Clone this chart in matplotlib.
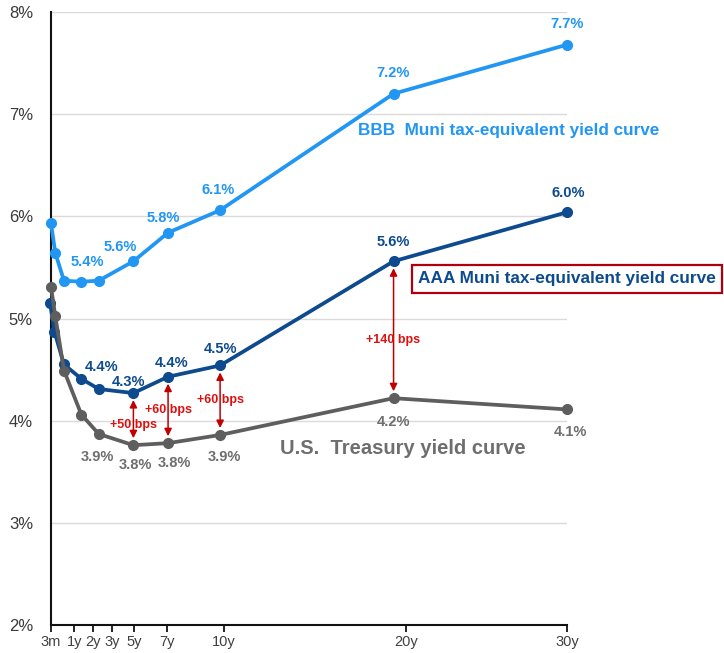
import matplotlib
matplotlib.use("Agg")
import matplotlib.pyplot as plt
from matplotlib.ticker import FuncFormatter

# Maturities in years (3m, 6m, 1y, 2y, 3y, 5y, 7y, 10y, 20y, 30y)
maturities = [0.25, 0.5, 1, 2, 3, 5, 7, 10, 20, 30]
aaa_maturities = [0.2, 0.45, 1, 2, 3, 5, 7, 10, 20, 30]

# Yields in percent
bbb_muni_te = [5.93, 5.64, 5.37, 5.36, 5.37, 5.56, 5.84, 6.06, 7.20, 7.68]
aaa_muni_te = [5.15, 4.87, 4.55, 4.41, 4.31, 4.27, 4.43, 4.54, 5.56, 6.04]
treasury = [5.31, 5.02, 4.49, 4.06, 3.87, 3.76, 3.78, 3.86, 4.22, 4.11]

# Which points get value labels, with their label offsets (pixels)
bbb_labeled = {3: (6, 20), 5: (-13, 14), 6: (-5, 15), 7: (-2, 20), 8: (0, 21), 9: (0, 21)}
aaa_labeled = {3: (20, 12), 5: (-5, 11), 6: (3, 14), 7: (0, 16), 8: (0, 19), 9: (1, 19)}
tsy_labeled = {4: (-1, -23), 5: (2, -20), 6: (6, -20), 7: (4, -22), 8: (0, -24), 9: (3, -23)}

# Spread call-outs between AAA muni and Treasury curves
spread_idx = [5, 6, 7, 8]
spread_labels = ["+50 bps", "+60 bps", "+60 bps", "+140 bps"]
spread_label_dy = [-0.06, 0.0, 0.0, -0.1]

tick_positions = [0.25, 1.6, 2.67, 3.76, 5.03, 6.93, 10.2, 20.7, 30]
tick_labels = ["3m", "1y", "2y", "3y", "5y", "7y", "10y", "20y", "30y"]
y_ticks = [2, 3, 4, 5, 6, 7, 8]

BBB_C = "#2196F3"
AAA_C = "#0D4A8E"
TSY_C = "#5E5E5E"
TSY_TXT = "#6E6E6E"
RED = "#C00000"

plt.rcParams["font.family"] = ["Liberation Sans", "DejaVu Sans"]

fig = plt.figure(figsize=(7.24, 6.53), dpi=100)
W, H = 724, 653
ax = fig.add_axes([51 / W, 1 - 625 / H, (567 - 51) / W, (625 - 12) / H])

ax.set_xlim(0.25, 30)
ax.set_ylim(2, 8)

ax.set_yticks(y_ticks)
ax.yaxis.set_major_formatter(FuncFormatter(lambda v, p: f"{v:.0f}%"))
ax.tick_params(axis="y", length=0, pad=13, labelsize=12, labelcolor="#3A3A3A")
ax.set_xticks(tick_positions)
ax.set_xticklabels(tick_labels, family=["Liberation Sans Narrow", "Liberation Sans"])
ax.tick_params(axis="x", length=5, width=1.2, direction="out", labelsize=10.5,
               labelcolor="#404040", pad=2)

ax.grid(axis="y", color="#DADADA", lw=1)
ax.set_axisbelow(True)
for s in ("top", "right"):
    ax.spines[s].set_visible(False)
for s in ("left", "bottom"):
    ax.spines[s].set_color("#111111")
    ax.spines[s].set_linewidth(1.5)

lkw = dict(lw=2.7, marker="o", ms=7, clip_on=False, zorder=3)
ax.plot(maturities, bbb_muni_te, color=BBB_C, **lkw)
ax.plot(aaa_maturities, aaa_muni_te, color=AAA_C, **lkw)
ax.plot(maturities, treasury, color=TSY_C, **lkw)


def label_points(xs, ys, labeled, color):
    for i, (dx, dy) in labeled.items():
        ax.annotate(f"{ys[i]:.1f}%", (xs[i], ys[i]), xytext=(dx, dy),
                    textcoords="offset pixels", ha="center", va="center",
                    fontsize=10.5, fontweight="bold", color=color,
                    annotation_clip=False, zorder=5)


label_points(maturities, bbb_muni_te, bbb_labeled, BBB_C)
label_points(aaa_maturities, aaa_muni_te, aaa_labeled, AAA_C)
label_points(maturities, treasury, tsy_labeled, TSY_TXT)

for i, txt, dy in zip(spread_idx, spread_labels, spread_label_dy):
    x = maturities[i]
    top, bot = aaa_muni_te[i], treasury[i]
    ax.annotate("", xy=(x, bot), xytext=(x, top),
                arrowprops=dict(arrowstyle="<|-|>", color=RED, lw=1.1,
                                mutation_scale=11, shrinkA=5, shrinkB=5),
                zorder=4)
    ax.text(x, (top + bot) / 2 + dy, txt, ha="center", va="center",
            fontsize=9, fontweight="bold", color="#E01010", zorder=6)

# Curve names
fig.text(358 / W, 1 - 130 / H, "BBB  Muni tax-equivalent yield curve",
         ha="left", va="center", fontsize=12.3, fontweight="bold", color=BBB_C)
fig.text(418 / W, 1 - 279 / H, "AAA Muni tax-equivalent yield curve",
         ha="left", va="center", fontsize=12.4, fontweight="bold", color=AAA_C,
         bbox=dict(boxstyle="square,pad=0.35", fc="white", ec="#B00010", lw=1.6))
fig.text(280 / W, 1 - 449 / H, "U.S.  Treasury yield curve",
         ha="left", va="center", fontsize=14.5, fontweight="bold", color=TSY_TXT)

fig.savefig("out.png", dpi=100)
